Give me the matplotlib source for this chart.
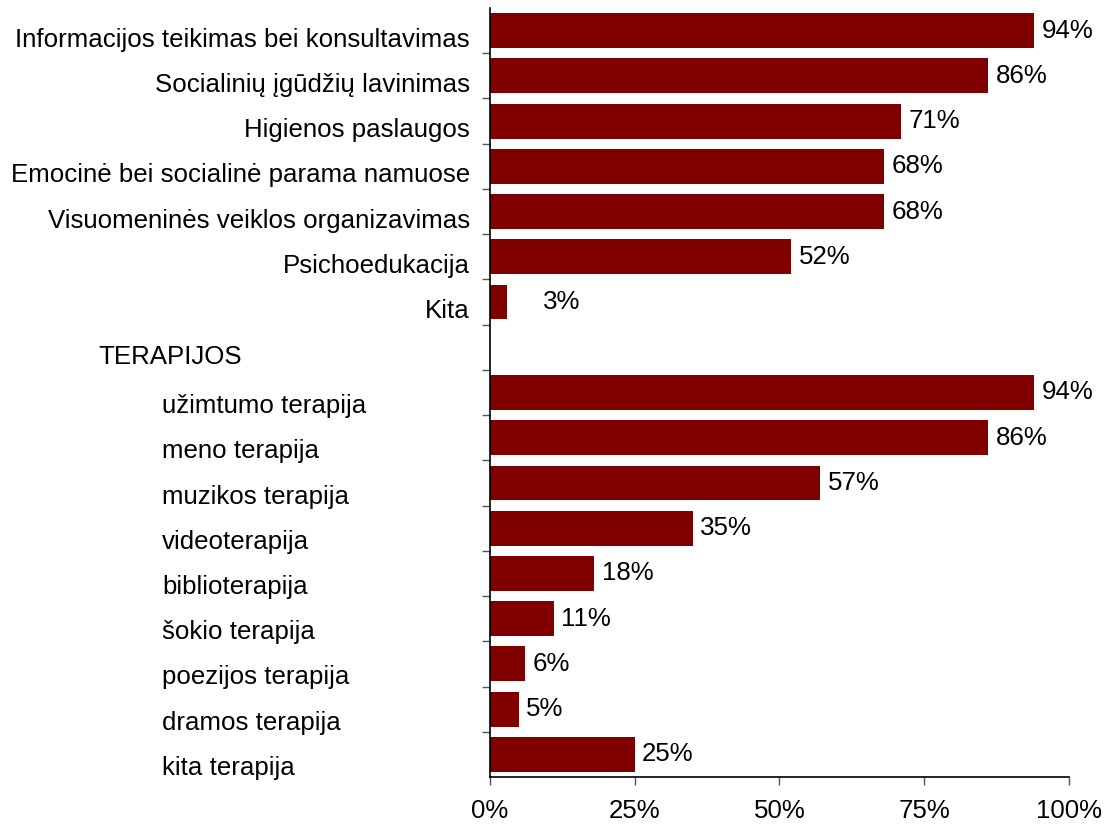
import matplotlib.pyplot as plt
from matplotlib.ticker import FixedLocator, PercentFormatter
from matplotlib.transforms import blended_transform_factory

plt.rcParams["font.family"] = ["Liberation Sans", "DejaVu Sans"]
plt.rcParams["font.size"] = 18.6

# services (top block) and therapies (bottom block)
services = [
    "Informacijos teikimas bei konsultavimas",
    "Socialinių įgūdžių lavinimas",
    "Higienos paslaugos",
    "Emocinė bei socialinė parama namuose",
    "Visuomeninės veiklos organizavimas",
    "Psichoedukacija",
    "Kita",
]
service_pct = [94, 86, 71, 68, 68, 52, 3]

group_title = "TERAPIJOS"

therapies = [
    "užimtumo terapija",
    "meno terapija",
    "muzikos terapija",
    "videoterapija",
    "biblioterapija",
    "šokio terapija",
    "poezijos terapija",
    "dramos terapija",
    "kita terapija",
]
therapy_pct = [94, 86, 57, 35, 18, 11, 6, 5, 25]

bar_color = "#800000"

fig = plt.figure(figsize=(11.12, 8.27), dpi=100)
ax = fig.add_axes([0.4406, 0.0605, 0.5207, 0.9298])

n_serv = len(services)
serv_pos = list(range(n_serv))
ther_pos = [n_serv + 1 + i for i in range(len(therapies))]
n_rows = n_serv + 1 + len(therapies)

ax.barh(serv_pos, service_pct, height=0.77, color=bar_color)
ax.barh(ther_pos, therapy_pct, height=0.77, color=bar_color)

ax.set_xlim(0, 100)
ax.set_ylim(n_rows - 0.5, -0.5)

# value labels (the tiny "Kita" bar gets its label pushed further out)
for pos, v in zip(serv_pos + ther_pos, service_pct + therapy_pct):
    off = 6.2 if v < 5 else 1.3
    ax.text(v + off, pos, f"{v}%", va="center", ha="left")

# category labels
trans = blended_transform_factory(fig.transFigure, ax.transData)
for pos, name in zip(serv_pos, services):
    ax.text(470 / 1112, pos + 0.2, name, ha="right", va="center", transform=trans)
ax.text(98 / 1112, n_serv + 0.22, group_title, ha="left", va="center", transform=trans)
for pos, name in zip(ther_pos, therapies):
    ax.text(162 / 1112, pos + 0.3, name, ha="left", va="center", transform=trans)

# axes styling
ax.spines["top"].set_visible(False)
ax.spines["right"].set_visible(False)
ax.spines["left"].set_linewidth(1.2)
ax.spines["bottom"].set_linewidth(1.2)

ax.set_xticks([0, 25, 50, 75, 100])
ax.xaxis.set_major_formatter(PercentFormatter(decimals=0))
ax.tick_params(axis="x", direction="out", length=6, width=1, color="#555555", pad=10)

ax.yaxis.set_major_locator(FixedLocator([i + 0.5 for i in range(n_rows - 1)]))
ax.set_yticklabels([])
ax.tick_params(axis="y", direction="out", length=6, width=1, color="#555555")

fig.savefig("out.png", dpi=100)
